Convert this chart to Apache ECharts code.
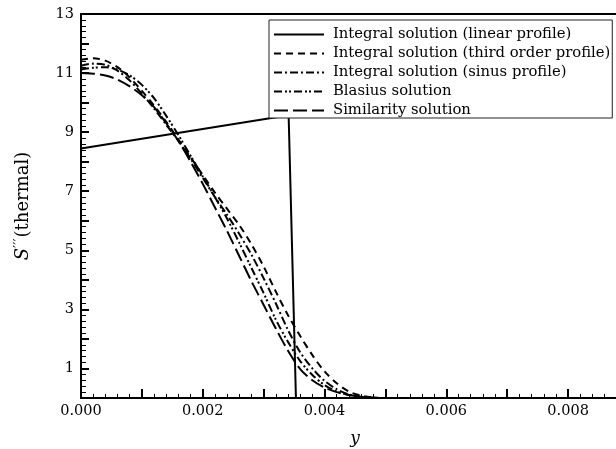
<!DOCTYPE html>
<html>
<head>
<meta charset="utf-8">
<script src="https://cdn.jsdelivr.net/npm/echarts@6/dist/echarts.min.js"></script>
<style>
  html, body { margin: 0; padding: 0; background: #fff; }
  #chart { width: 616px; height: 449px; }
</style>
</head>
<body>
<div id="chart"></div>
<script>
// Wall distance y (shared grid for the smooth solutions)
const yGrid = [0, 0.0002, 0.0004, 0.0006, 0.0008, 0.001, 0.0012, 0.0014, 0.0016, 0.0018,
  0.002, 0.0022, 0.0024, 0.0026, 0.0028, 0.003, 0.0032, 0.0034, 0.0036, 0.0038,
  0.004, 0.0042, 0.0044, 0.0046, 0.0048, 0.005, 0.0052];

// S''' (thermal) for each solution
const thirdOrder = [11.45, 11.5, 11.42, 11.2, 10.85, 10.4, 9.9, 9.35, 8.75, 8.15,
  7.55, 6.95, 6.4, 5.85, 5.2, 4.45, 3.6, 2.8, 2.1, 1.45,
  0.9, 0.5, 0.22, 0.08, 0.02, 0, 0];
const sinus = [11.25, 11.32, 11.28, 11.08, 10.75, 10.3, 9.8, 9.25, 8.7, 8.1,
  7.45, 6.8, 6.2, 5.55, 4.85, 4.05, 3.2, 2.3, 1.55, 1.0,
  0.58, 0.3, 0.12, 0.04, 0.01, 0, 0];
const blasius = [11.12, 11.18, 11.2, 11.12, 10.92, 10.6, 10.15, 9.55, 8.9, 8.2,
  7.5, 6.8, 6.07, 5.25, 4.4, 3.55, 2.65, 1.9, 1.25, 0.78,
  0.44, 0.22, 0.1, 0.04, 0.01, 0, 0];
const similarity = [11.0, 10.98, 10.92, 10.78, 10.55, 10.25, 9.85, 9.3, 8.7, 8.0,
  7.25, 6.45, 5.65, 4.8, 3.95, 3.15, 2.35, 1.6, 0.98, 0.6,
  0.35, 0.2, 0.1, 0.04, 0.01, 0, 0];

// Linear profile: own support points
const linearY = [0, 0.00341, 0.00353];
const linearS = [8.45, 9.57, 0];

const seriesNames = [
  'Integral solution (linear profile)',
  'Integral solution (third order profile)',
  'Integral solution (sinus profile)',
  'Blasius solution',
  'Similarity solution'
];

const serif = 'DejaVu Serif';

function pairs(xs, ys) { return xs.map((x, i) => [x, ys[i]]); }

function curve(name, xs, ys, dash, smooth) {
  return {
    name: name,
    type: 'line',
    data: pairs(xs, ys),
    symbol: 'none',
    smooth: smooth,
    lineStyle: { color: '#000', width: 2, type: dash },
    itemStyle: { color: '#000' },
    animation: false
  };
}

const chart = echarts.init(document.getElementById('chart'));
chart.setOption({
  backgroundColor: '#fff',
  animation: false,
  grid: {
    left: 81, top: 14, width: 548, bottom: 51,
    outerBoundsMode: 'none',
    containLabel: false,
    show: true, borderColor: '#000', borderWidth: 2, backgroundColor: 'transparent'
  },
  legend: {
    orient: 'vertical',
    left: 269, top: 20,
    padding: [7, 2, 0, 4],
    itemGap: 4,
    itemWidth: 50,
    itemHeight: 14,
    borderColor: '#222',
    borderWidth: 1,
    backgroundColor: '#fff',
    itemStyle: { opacity: 0 },
    textStyle: { fontFamily: serif, fontSize: 14.8, color: '#000', padding: [0, 0, 0, 4] },
    data: seriesNames
  },
  xAxis: {
    type: 'value',
    min: 0, max: 0.009, interval: 0.001,
    name: 'y',
    nameLocation: 'middle',
    nameGap: 32,
    nameTextStyle: { fontFamily: serif, fontStyle: 'italic', fontSize: 17, color: '#000' },
    axisLine: { show: true, onZero: false, lineStyle: { color: '#000', width: 2 } },
    axisTick: { show: true, inside: true, length: 9, lineStyle: { color: '#000', width: 2 } },
    minorTick: { show: true, splitNumber: 5, length: 4, lineStyle: { color: '#000', width: 1 } },
    splitLine: { show: false },
    axisLabel: {
      fontFamily: serif, fontSize: 14.5, color: '#000', margin: 6,
      formatter: v => (Math.round(v * 1000) % 2 === 0 ? v.toFixed(3) : '')
    }
  },
  yAxis: {
    type: 'value',
    min: 0, max: 13, interval: 1,
    name: '{it|S}{sup|′′′}(thermal)',
    nameLocation: 'middle',
    nameGap: 48,
    nameRotate: 90,
    nameTextStyle: {
      fontFamily: serif, fontSize: 18, color: '#000',
      rich: {
        it: { fontFamily: serif, fontStyle: 'italic', fontSize: 18, color: '#000' },
        sup: { fontFamily: serif, fontSize: 14, color: '#000', verticalAlign: 'top', padding: [0, 1, 6, 0] }
      }
    },
    axisLine: { show: true, onZero: false, lineStyle: { color: '#000', width: 2 } },
    axisTick: { show: true, inside: true, length: 8, lineStyle: { color: '#000', width: 2 } },
    minorTick: { show: true, splitNumber: 5, length: 5, lineStyle: { color: '#000', width: 1 } },
    splitLine: { show: false },
    axisLabel: {
      fontFamily: serif, fontSize: 14.5, color: '#000', margin: 7,
      formatter: v => (v % 2 === 1 ? String(v) : '')
    }
  },
  series: [
    curve(seriesNames[0], linearY, linearS, 'solid', false),
    curve(seriesNames[1], yGrid, thirdOrder, [7, 5], 0.3),
    curve(seriesNames[2], yGrid, sinus, [8, 3, 2, 3], 0.3),
    curve(seriesNames[3], yGrid, blasius, [8, 3, 2, 2, 2, 3], 0.3),
    curve(seriesNames[4], yGrid, similarity, [14, 5], 0.3)
  ]
});
</script>
</body>
</html>
